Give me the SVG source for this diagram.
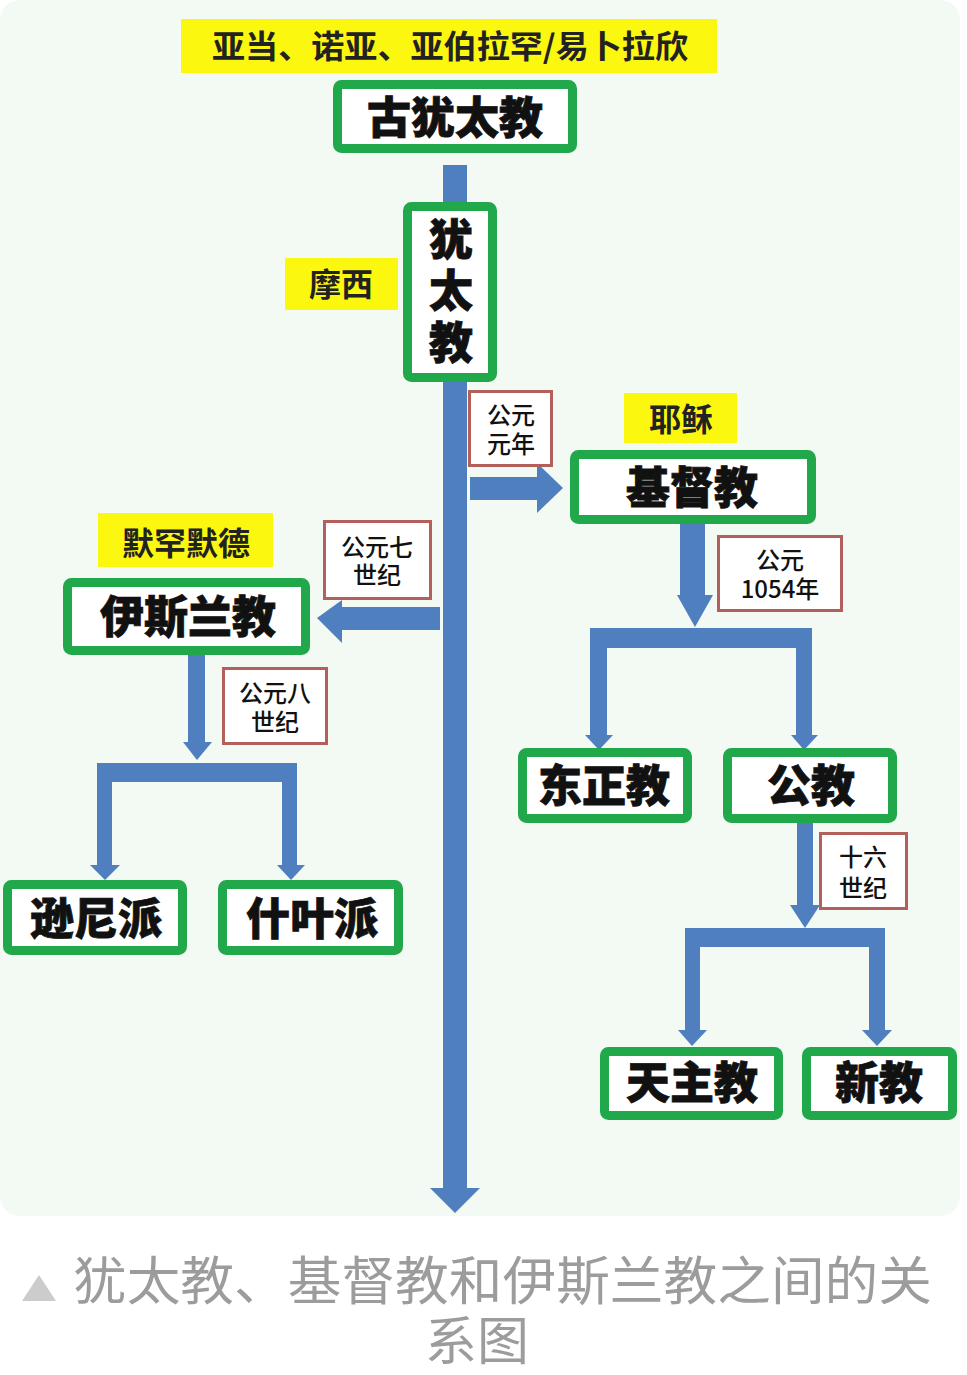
<svg xmlns="http://www.w3.org/2000/svg" width="967" height="1375" viewBox="0 0 967 1375">
<style>
.node{fill:#fff;stroke:#21a84a;stroke-width:9}
.date{fill:#fff;stroke:#b3605c;stroke-width:3}
.who{fill:#fbf70f}
.nt{font-family:"Noto Sans CJK SC",sans-serif;font-weight:900;font-size:44px;fill:#111;text-anchor:middle;stroke:#111;stroke-width:0.8}
.wt{font-family:"Noto Sans CJK SC",sans-serif;font-weight:700;font-size:32px;fill:#222;text-anchor:middle}
.dt{font-family:"Noto Sans CJK SC",sans-serif;font-weight:500;font-size:24px;fill:#111;text-anchor:middle}
.cap{font-family:"Noto Sans CJK SC",sans-serif;font-weight:400;font-size:52px;fill:#9c9c9c}
.arr{fill:#4f7fbe}
</style>
<rect x="0" y="0" width="960" height="1216" rx="20" fill="#f3f9f3"/>
<g id="connectors" class="arr">
<rect x="443" y="165" width="24" height="1024"/>
<polygon points="430,1188 480,1188 455,1213"/>
<rect x="470" y="477" width="68" height="23"/>
<polygon points="537,463 537,513 563,488"/>
<rect x="680" y="522" width="25" height="74"/>
<polygon points="677,595 713,595 695,627"/>
<rect x="590" y="628" width="222" height="20"/>
<rect x="590" y="628" width="17" height="108"/>
<polygon points="585,735 613,735 599,750"/>
<rect x="796" y="628" width="16" height="108"/>
<polygon points="791,735 818,735 804,750"/>
<rect x="797" y="823" width="16" height="83"/>
<polygon points="790,905 820,905 805,928"/>
<rect x="685" y="928" width="200" height="19"/>
<rect x="685" y="928" width="15" height="103"/>
<polygon points="678,1030 707,1030 692,1046"/>
<rect x="869" y="928" width="16" height="103"/>
<polygon points="862,1030 892,1030 877,1046"/>
<rect x="341" y="607" width="99" height="23"/>
<polygon points="342,600 342,643 317,618"/>
<rect x="188" y="655" width="17" height="88"/>
<polygon points="183,742 212,742 197,760"/>
<rect x="97" y="763" width="200" height="19"/>
<rect x="97" y="763" width="15" height="103"/>
<polygon points="90,865 120,865 105,880"/>
<rect x="282" y="763" width="15" height="103"/>
<polygon points="277,865 305,865 291,880"/>
</g>
<g id="label-ancestors"><rect class="who" x="181" y="19" width="536" height="54"/><text class="wt" x="450" y="58" textLength="476" lengthAdjust="spacingAndGlyphs">亚当、诺亚、亚伯拉罕/易卜拉欣</text></g>
<g id="node-ancient"><rect class="node" x="337.5" y="84.5" width="235" height="64" rx="4"/><text class="nt" x="455" y="134" font-size="46">古犹太教</text></g>
<g id="label-moses"><rect class="who" x="285" y="258" width="113" height="52"/><text class="wt" x="341" y="296">摩西</text></g>
<g id="node-judaism"><rect class="node" x="407.5" y="206.5" width="85" height="171" rx="4"/><text class="nt" font-size="46"><tspan x="451" y="256">犹</tspan><tspan x="451" y="307">太</tspan><tspan x="451" y="359">教</tspan></text></g>
<g id="date-ad1"><rect class="date" x="469.5" y="391.5" width="82" height="74"/><text class="dt"><tspan x="511" y="424">公元</tspan><tspan x="511" y="453">元年</tspan></text></g>
<g id="label-jesus"><rect class="who" x="624" y="393" width="113" height="50"/><text class="wt" x="681" y="431">耶稣</text></g>
<g id="node-christianity"><rect class="node" x="574.5" y="454.5" width="237" height="65" rx="4"/><text class="nt" x="692" y="504" font-size="46">基督教</text></g>
<g id="date-1054"><rect class="date" x="718.5" y="536.5" width="123" height="74"/><text class="dt"><tspan x="780" y="569">公元</tspan><tspan x="780" y="598">1054年</tspan></text></g>
<g id="node-orthodox"><rect class="node" x="522.5" y="752.5" width="165" height="66" rx="4"/><text class="nt" x="604" y="802">东正教</text></g>
<g id="node-catholic-general"><rect class="node" x="727.5" y="752.5" width="165" height="66" rx="4"/><text class="nt" x="811" y="802">公教</text></g>
<g id="date-16c"><rect class="date" x="820.5" y="833.5" width="86" height="75"/><text class="dt"><tspan x="863" y="866">十六</tspan><tspan x="863" y="897">世纪</tspan></text></g>
<g id="node-catholic"><rect class="node" x="604.5" y="1051.5" width="174" height="64" rx="4"/><text class="nt" x="692" y="1099">天主教</text></g>
<g id="node-protestant"><rect class="node" x="806.5" y="1051.5" width="146" height="64" rx="4"/><text class="nt" x="879" y="1099">新教</text></g>
<g id="label-muhammad"><rect class="who" x="98" y="513" width="175" height="54"/><text class="wt" x="186" y="555">默罕默德</text></g>
<g id="date-7c"><rect class="date" x="324.5" y="521.5" width="106" height="77"/><text class="dt"><tspan x="377" y="556">公元七</tspan><tspan x="377" y="584">世纪</tspan></text></g>
<g id="node-islam"><rect class="node" x="67.5" y="582.5" width="238" height="68" rx="4"/><text class="nt" x="188" y="633" font-size="46">伊斯兰教</text></g>
<g id="date-8c"><rect class="date" x="223.5" y="668.5" width="103" height="75"/><text class="dt"><tspan x="275" y="702">公元八</tspan><tspan x="275" y="731">世纪</tspan></text></g>
<g id="node-sunni"><rect class="node" x="7.5" y="884.5" width="175" height="66" rx="4"/><text class="nt" x="96" y="935">逊尼派</text></g>
<g id="node-shia"><rect class="node" x="222.5" y="884.5" width="176" height="66" rx="4"/><text class="nt" x="312" y="935">什叶派</text></g>
<g id="caption">
<polygon points="22,1301 56,1301 39,1275" fill="#cccccc"/>
<text class="cap" x="73" y="1300" textLength="859" lengthAdjust="spacingAndGlyphs">犹太教、基督教和伊斯兰教之间的关</text>
<text class="cap" x="477" y="1360" font-size="50" text-anchor="middle">系图</text>
</g>
</svg>
